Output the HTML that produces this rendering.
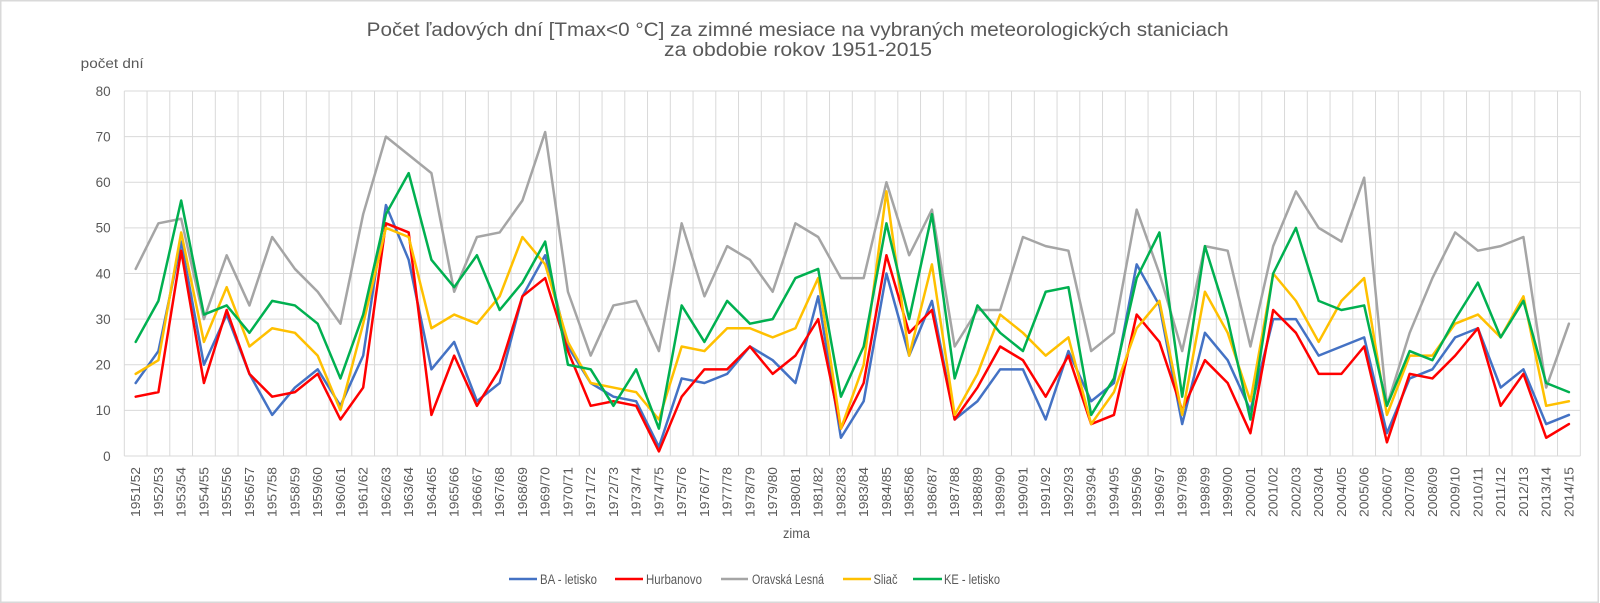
<!DOCTYPE html>
<html>
<head>
<meta charset="utf-8">
<style>
  html,body{margin:0;padding:0;background:#fff;}
  svg{display:block;}
  text{font-family:"Liberation Sans",sans-serif;fill:#595959;}
</style>
</head>
<body>
<svg width="1600" height="603" viewBox="0 0 1600 603" xmlns="http://www.w3.org/2000/svg">
  <rect x="0" y="0" width="1600" height="603" fill="#fff"/>
  <rect x="0.75" y="0.75" width="1597.5" height="1601.5" fill="none" stroke="#d9d9d9" stroke-width="1.5" style="display:none"/>
  <rect x="0.75" y="0.75" width="1597.5" height="601.5" fill="none" stroke="#d9d9d9" stroke-width="1.5"/>

  <!-- Title -->
  <text x="366.7" y="36" font-size="19" textLength="862" lengthAdjust="spacingAndGlyphs">Počet ľadových dní [Tmax&lt;0 °C] za zimné mesiace na vybraných meteorologických staniciach</text>
  <text x="664" y="56" font-size="19" textLength="268" lengthAdjust="spacingAndGlyphs">za obdobie rokov 1951-2015</text>

  <!-- Y axis title -->
  <text x="80.7" y="68" font-size="13.5" textLength="63" lengthAdjust="spacingAndGlyphs">počet dní</text>

  <!-- horizontal gridlines -->
  <g stroke="#d9d9d9" stroke-width="1">
    <line x1="124.3" x2="1580.3" y1="91" y2="91"/>
    <line x1="124.3" x2="1580.3" y1="136.6" y2="136.6"/>
    <line x1="124.3" x2="1580.3" y1="182.25" y2="182.25"/>
    <line x1="124.3" x2="1580.3" y1="227.9" y2="227.9"/>
    <line x1="124.3" x2="1580.3" y1="273.5" y2="273.5"/>
    <line x1="124.3" x2="1580.3" y1="319.1" y2="319.1"/>
    <line x1="124.3" x2="1580.3" y1="364.75" y2="364.75"/>
    <line x1="124.3" x2="1580.3" y1="410.4" y2="410.4"/>
    <line x1="124.3" x2="1580.3" y1="456" y2="456"/>
  </g>

  <!-- vertical gridlines -->
  <path transform="translate(124.3,456) scale(22.75,-4.5625)" fill="none" stroke="#d9d9d9" stroke-width="1" vector-effect="non-scaling-stroke"
    d="M0 0V80M1 0V80M2 0V80M3 0V80M4 0V80M5 0V80M6 0V80M7 0V80M8 0V80M9 0V80M10 0V80M11 0V80M12 0V80M13 0V80M14 0V80M15 0V80M16 0V80M17 0V80M18 0V80M19 0V80M20 0V80M21 0V80M22 0V80M23 0V80M24 0V80M25 0V80M26 0V80M27 0V80M28 0V80M29 0V80M30 0V80M31 0V80M32 0V80M33 0V80M34 0V80M35 0V80M36 0V80M37 0V80M38 0V80M39 0V80M40 0V80M41 0V80M42 0V80M43 0V80M44 0V80M45 0V80M46 0V80M47 0V80M48 0V80M49 0V80M50 0V80M51 0V80M52 0V80M53 0V80M54 0V80M55 0V80M56 0V80M57 0V80M58 0V80M59 0V80M60 0V80M61 0V80M62 0V80M63 0V80M64 0V80"/>

  <!-- Y tick labels -->
  <g font-size="13.5" text-anchor="end">
    <text x="110.7" y="95.8">80</text>
    <text x="110.7" y="141.4">70</text>
    <text x="110.7" y="187">60</text>
    <text x="110.7" y="232.7">50</text>
    <text x="110.7" y="278.3">40</text>
    <text x="110.7" y="323.9">30</text>
    <text x="110.7" y="369.5">20</text>
    <text x="110.7" y="415.2">10</text>
    <text x="110.7" y="460.8">0</text>
  </g>

  <!-- Series -->
  <g transform="translate(135.675,456) scale(22.75,-4.5625)" fill="none" stroke-width="2.5" stroke-linejoin="round" stroke-linecap="round">
    <polyline vector-effect="non-scaling-stroke" stroke="#4472C4" points="0,16 1,23 2,47 3,20 4,31 5,18 6,9 7,15 8,19 9,11 10,22 11,55 12,43 13,19 14,25 15,12 16,16 17,35 18,44 19,24 20,16 21,13 22,12 23,2 24,17 25,16 26,18 27,24 28,21 29,16 30,35 31,4 32,12 33,40 34,22 35,34 36,8 37,12 38,19 39,19 40,8 41,23 42,12 43,16 44,42 45,33 46,7 47,27 48,21 49,10 50,30 51,30 52,22 53,24 54,26 55,5 56,17 57,19 58,26 59,28 60,15 61,19 62,7 63,9"/>
    <polyline vector-effect="non-scaling-stroke" stroke="#FF0000" points="0,13 1,14 2,45 3,16 4,32 5,18 6,13 7,14 8,18 9,8 10,15 11,51 12,49 13,9 14,22 15,11 16,19 17,35 18,39 19,23 20,11 21,12 22,11 23,1 24,13 25,19 26,19 27,24 28,18 29,22 30,30 31,6 32,16 33,44 34,27 35,32 36,8 37,15 38,24 39,21 40,13 41,22 42,7 43,9 44,31 45,25 46,10 47,21 48,16 49,5 50,32 51,27 52,18 53,18 54,24 55,3 56,18 57,17 58,22 59,28 60,11 61,18 62,4 63,7"/>
    <polyline vector-effect="non-scaling-stroke" stroke="#A5A5A5" points="0,41 1,51 2,52 3,30 4,44 5,33 6,48 7,41 8,36 9,29 10,53 11,70 12,66 13,62 14,36 15,48 16,49 17,56 18,71 19,36 20,22 21,33 22,34 23,23 24,51 25,35 26,46 27,43 28,36 29,51 30,48 31,39 32,39 33,60 34,44 35,54 36,24 37,32 38,32 39,48 40,46 41,45 42,23 43,27 44,54 45,40 46,23 47,46 48,45 49,24 50,46 51,58 52,50 53,47 54,61 55,11 56,27 57,39 58,49 59,45 60,46 61,48 62,15 63,29"/>
    <polyline vector-effect="non-scaling-stroke" stroke="#FFC000" points="0,18 1,21 2,49 3,25 4,37 5,24 6,28 7,27 8,22 9,10 10,29 11,50 12,48 13,28 14,31 15,29 16,35 17,48 18,42 19,25 20,16 21,15 22,14 23,8 24,24 25,23 26,28 27,28 28,26 29,28 30,39 31,6 32,20 33,58 34,22 35,42 36,9 37,18 38,31 39,27 40,22 41,26 42,7 43,14 44,28 45,34 46,9 47,36 48,27 49,12 50,40 51,34 52,25 53,34 54,39 55,9 56,22 57,22 58,29 59,31 60,26 61,35 62,11 63,12"/>
    <polyline vector-effect="non-scaling-stroke" stroke="#00B050" points="0,25 1,34 2,56 3,31 4,33 5,27 6,34 7,33 8,29 9,17 10,31 11,53 12,62 13,43 14,37 15,44 16,32 17,38 18,47 19,20 20,19 21,11 22,19 23,6 24,33 25,25 26,34 27,29 28,30 29,39 30,41 31,13 32,24 33,51 34,30 35,53 36,17 37,33 38,27 39,23 40,36 41,37 42,9 43,17 44,39 45,49 46,13 47,46 48,30 49,8 50,40 51,50 52,34 53,32 54,33 55,11 56,23 57,21 58,30 59,38 60,26 61,34 62,16 63,14"/>
  </g>

  <!-- X category labels -->
  <g font-size="13" text-anchor="end">
    <text transform="translate(140.2,467) rotate(-90)" textLength="50" lengthAdjust="spacingAndGlyphs">1951/52</text>
    <text transform="translate(162.95,467) rotate(-90)" textLength="50" lengthAdjust="spacingAndGlyphs">1952/53</text>
    <text transform="translate(185.7,467) rotate(-90)" textLength="50" lengthAdjust="spacingAndGlyphs">1953/54</text>
    <text transform="translate(208.45,467) rotate(-90)" textLength="50" lengthAdjust="spacingAndGlyphs">1954/55</text>
    <text transform="translate(231.2,467) rotate(-90)" textLength="50" lengthAdjust="spacingAndGlyphs">1955/56</text>
    <text transform="translate(253.95,467) rotate(-90)" textLength="50" lengthAdjust="spacingAndGlyphs">1956/57</text>
    <text transform="translate(276.7,467) rotate(-90)" textLength="50" lengthAdjust="spacingAndGlyphs">1957/58</text>
    <text transform="translate(299.45,467) rotate(-90)" textLength="50" lengthAdjust="spacingAndGlyphs">1958/59</text>
    <text transform="translate(322.2,467) rotate(-90)" textLength="50" lengthAdjust="spacingAndGlyphs">1959/60</text>
    <text transform="translate(344.95,467) rotate(-90)" textLength="50" lengthAdjust="spacingAndGlyphs">1960/61</text>
    <text transform="translate(367.7,467) rotate(-90)" textLength="50" lengthAdjust="spacingAndGlyphs">1961/62</text>
    <text transform="translate(390.45,467) rotate(-90)" textLength="50" lengthAdjust="spacingAndGlyphs">1962/63</text>
    <text transform="translate(413.2,467) rotate(-90)" textLength="50" lengthAdjust="spacingAndGlyphs">1963/64</text>
    <text transform="translate(435.95,467) rotate(-90)" textLength="50" lengthAdjust="spacingAndGlyphs">1964/65</text>
    <text transform="translate(458.7,467) rotate(-90)" textLength="50" lengthAdjust="spacingAndGlyphs">1965/66</text>
    <text transform="translate(481.45,467) rotate(-90)" textLength="50" lengthAdjust="spacingAndGlyphs">1966/67</text>
    <text transform="translate(504.2,467) rotate(-90)" textLength="50" lengthAdjust="spacingAndGlyphs">1967/68</text>
    <text transform="translate(526.95,467) rotate(-90)" textLength="50" lengthAdjust="spacingAndGlyphs">1968/69</text>
    <text transform="translate(549.7,467) rotate(-90)" textLength="50" lengthAdjust="spacingAndGlyphs">1969/70</text>
    <text transform="translate(572.45,467) rotate(-90)" textLength="50" lengthAdjust="spacingAndGlyphs">1970/71</text>
    <text transform="translate(595.2,467) rotate(-90)" textLength="50" lengthAdjust="spacingAndGlyphs">1971/72</text>
    <text transform="translate(617.95,467) rotate(-90)" textLength="50" lengthAdjust="spacingAndGlyphs">1972/73</text>
    <text transform="translate(640.7,467) rotate(-90)" textLength="50" lengthAdjust="spacingAndGlyphs">1973/74</text>
    <text transform="translate(663.45,467) rotate(-90)" textLength="50" lengthAdjust="spacingAndGlyphs">1974/75</text>
    <text transform="translate(686.2,467) rotate(-90)" textLength="50" lengthAdjust="spacingAndGlyphs">1975/76</text>
    <text transform="translate(708.95,467) rotate(-90)" textLength="50" lengthAdjust="spacingAndGlyphs">1976/77</text>
    <text transform="translate(731.7,467) rotate(-90)" textLength="50" lengthAdjust="spacingAndGlyphs">1977/78</text>
    <text transform="translate(754.45,467) rotate(-90)" textLength="50" lengthAdjust="spacingAndGlyphs">1978/79</text>
    <text transform="translate(777.2,467) rotate(-90)" textLength="50" lengthAdjust="spacingAndGlyphs">1979/80</text>
    <text transform="translate(799.95,467) rotate(-90)" textLength="50" lengthAdjust="spacingAndGlyphs">1980/81</text>
    <text transform="translate(822.7,467) rotate(-90)" textLength="50" lengthAdjust="spacingAndGlyphs">1981/82</text>
    <text transform="translate(845.45,467) rotate(-90)" textLength="50" lengthAdjust="spacingAndGlyphs">1982/83</text>
    <text transform="translate(868.2,467) rotate(-90)" textLength="50" lengthAdjust="spacingAndGlyphs">1983/84</text>
    <text transform="translate(890.95,467) rotate(-90)" textLength="50" lengthAdjust="spacingAndGlyphs">1984/85</text>
    <text transform="translate(913.7,467) rotate(-90)" textLength="50" lengthAdjust="spacingAndGlyphs">1985/86</text>
    <text transform="translate(936.45,467) rotate(-90)" textLength="50" lengthAdjust="spacingAndGlyphs">1986/87</text>
    <text transform="translate(959.2,467) rotate(-90)" textLength="50" lengthAdjust="spacingAndGlyphs">1987/88</text>
    <text transform="translate(981.95,467) rotate(-90)" textLength="50" lengthAdjust="spacingAndGlyphs">1988/89</text>
    <text transform="translate(1004.7,467) rotate(-90)" textLength="50" lengthAdjust="spacingAndGlyphs">1989/90</text>
    <text transform="translate(1027.45,467) rotate(-90)" textLength="50" lengthAdjust="spacingAndGlyphs">1990/91</text>
    <text transform="translate(1050.2,467) rotate(-90)" textLength="50" lengthAdjust="spacingAndGlyphs">1991/92</text>
    <text transform="translate(1072.95,467) rotate(-90)" textLength="50" lengthAdjust="spacingAndGlyphs">1992/93</text>
    <text transform="translate(1095.7,467) rotate(-90)" textLength="50" lengthAdjust="spacingAndGlyphs">1993/94</text>
    <text transform="translate(1118.45,467) rotate(-90)" textLength="50" lengthAdjust="spacingAndGlyphs">1994/95</text>
    <text transform="translate(1141.2,467) rotate(-90)" textLength="50" lengthAdjust="spacingAndGlyphs">1995/96</text>
    <text transform="translate(1163.95,467) rotate(-90)" textLength="50" lengthAdjust="spacingAndGlyphs">1996/97</text>
    <text transform="translate(1186.7,467) rotate(-90)" textLength="50" lengthAdjust="spacingAndGlyphs">1997/98</text>
    <text transform="translate(1209.45,467) rotate(-90)" textLength="50" lengthAdjust="spacingAndGlyphs">1998/99</text>
    <text transform="translate(1232.2,467) rotate(-90)" textLength="50" lengthAdjust="spacingAndGlyphs">1999/00</text>
    <text transform="translate(1254.95,467) rotate(-90)" textLength="50" lengthAdjust="spacingAndGlyphs">2000/01</text>
    <text transform="translate(1277.7,467) rotate(-90)" textLength="50" lengthAdjust="spacingAndGlyphs">2001/02</text>
    <text transform="translate(1300.45,467) rotate(-90)" textLength="50" lengthAdjust="spacingAndGlyphs">2002/03</text>
    <text transform="translate(1323.2,467) rotate(-90)" textLength="50" lengthAdjust="spacingAndGlyphs">2003/04</text>
    <text transform="translate(1345.95,467) rotate(-90)" textLength="50" lengthAdjust="spacingAndGlyphs">2004/05</text>
    <text transform="translate(1368.7,467) rotate(-90)" textLength="50" lengthAdjust="spacingAndGlyphs">2005/06</text>
    <text transform="translate(1391.45,467) rotate(-90)" textLength="50" lengthAdjust="spacingAndGlyphs">2006/07</text>
    <text transform="translate(1414.2,467) rotate(-90)" textLength="50" lengthAdjust="spacingAndGlyphs">2007/08</text>
    <text transform="translate(1436.95,467) rotate(-90)" textLength="50" lengthAdjust="spacingAndGlyphs">2008/09</text>
    <text transform="translate(1459.7,467) rotate(-90)" textLength="50" lengthAdjust="spacingAndGlyphs">2009/10</text>
    <text transform="translate(1482.45,467) rotate(-90)" textLength="50" lengthAdjust="spacingAndGlyphs">2010/11</text>
    <text transform="translate(1505.2,467) rotate(-90)" textLength="50" lengthAdjust="spacingAndGlyphs">2011/12</text>
    <text transform="translate(1527.95,467) rotate(-90)" textLength="50" lengthAdjust="spacingAndGlyphs">2012/13</text>
    <text transform="translate(1550.7,467) rotate(-90)" textLength="50" lengthAdjust="spacingAndGlyphs">2013/14</text>
    <text transform="translate(1573.45,467) rotate(-90)" textLength="50" lengthAdjust="spacingAndGlyphs">2014/15</text>
  </g>

  <!-- X axis title -->
  <text x="783" y="538" font-size="13.5" textLength="27" lengthAdjust="spacingAndGlyphs">zima</text>

  <!-- Legend -->
  <g stroke-width="2.5" fill="none">
    <line x1="509" x2="537" y1="579" y2="579" stroke="#4472C4"/>
    <line x1="615" x2="643" y1="579" y2="579" stroke="#FF0000"/>
    <line x1="721" x2="748" y1="579" y2="579" stroke="#A5A5A5"/>
    <line x1="843" x2="871" y1="579" y2="579" stroke="#FFC000"/>
    <line x1="913" x2="942" y1="579" y2="579" stroke="#00B050"/>
  </g>
  <g font-size="13.5">
    <text x="540" y="583.8" textLength="57" lengthAdjust="spacingAndGlyphs">BA - letisko</text>
    <text x="646" y="583.8" textLength="56" lengthAdjust="spacingAndGlyphs">Hurbanovo</text>
    <text x="752" y="583.8" textLength="72" lengthAdjust="spacingAndGlyphs">Oravská Lesná</text>
    <text x="873.5" y="583.8" textLength="24" lengthAdjust="spacingAndGlyphs">Sliač</text>
    <text x="944" y="583.8" textLength="56" lengthAdjust="spacingAndGlyphs">KE - letisko</text>
  </g>
</svg>
</body>
</html>
